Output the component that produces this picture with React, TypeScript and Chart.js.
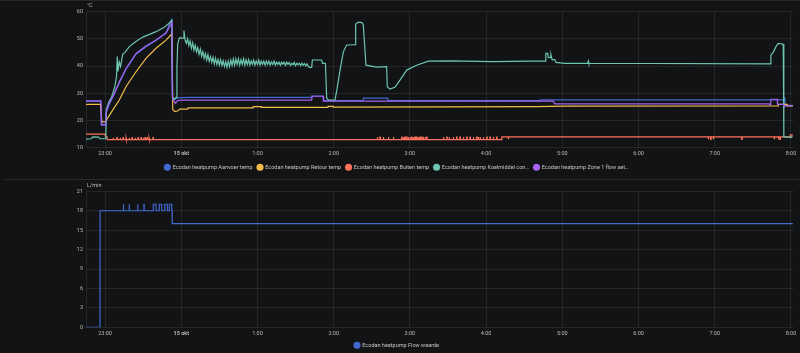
import React, { useEffect, useRef } from 'react';
import { Chart, registerables } from 'chart.js';

Chart.register(...registerables);

// x values: minutes since 14 okt 22:00
const X_MIN = 45; // 22:45
const X_MAX = 602; // ~8:02
const HOUR_TICKS = [60, 120, 180, 240, 300, 360, 420, 480, 540, 600];
const TEMP_TICKS = [10, 20, 30, 40, 50, 60];
const FLOW_TICKS = [0, 3, 6, 9, 12, 15, 18, 21];

const TEMP_LABELS = [
  'Ecodan heatpump Aanvoer temp',
  'Ecodan heatpump Retour temp',
  'Ecodan heatpump Buiten temp',
  'Ecodan heatpump Koelmiddel con…',
  'Ecodan heatpump Zone 1 flow set…',
];
const FLOW_LABEL = 'Ecodan heatpump Flow waarde';
const COLORS = ['#4269d0', '#f4bd4a', '#ff725c', '#6cc5b0', '#a463f2'];

const aanvoer: [number, number][] = [
  [45, 27], [56.5, 27], [57, 18.6], [60.5, 18.6], [61, 23], [63.3, 26], [67.3, 29.7], [71.2, 33.8],
  [76.5, 38.8], [84.4, 44.3], [92.2, 47.1], [100.1, 49.4], [108, 52.3], [112.4, 57], [113, 28.3],
  [115, 27.8], [117, 28.3], [125, 28.5], [222.5, 28.5], [222.7, 29], [231.6, 29], [232, 27.3],
  [263, 27.3], [263.5, 28.2], [282.5, 28.2], [283, 27.3], [402, 27.3], [402.5, 27.6], [594, 27.6],
  [594.3, 28.3], [595, 28.3], [595.3, 25.6], [601.5, 25.6],
];

const retour: [number, number][] = [
  [45, 25.9], [56.5, 25.9], [57.5, 19.5], [60.5, 19.5], [61, 20.1], [66, 23.8], [71.2, 27.5],
  [76.5, 32.4], [84.4, 37.9], [92.2, 42.8], [100.1, 46.5], [108, 49.5], [112.7, 51.8], [113.3, 24],
  [115, 23.3], [117, 23.5], [119, 24.2], [125, 24.2], [125.5, 24.6], [176.5, 24.6], [176.6, 25.1],
  [183, 25.1], [183.1, 24.8], [235.5, 24.8], [235.6, 25.2], [239.5, 25.2], [239.6, 24.9], [330, 25],
  [400, 25.1], [422, 25.3], [590, 25.4], [590.1, 25.9], [597, 25.9], [597.1, 25.4], [601.5, 25.4],
];

const buitenBase: [number, number][] = [
  [45, 15], [60, 15], [60.3, 14], [61.5, 14], [61.8, 13], [372.2, 13], [372.4, 14], [599.3, 14],
  [599.5, 14.7], [601.5, 14.7],
];
const buitenUpEarly = [66.3, 69.4, 71.8, 74.1, 76.5, 78.9, 81.2, 83.6, 85.9, 88.3, 89.9, 91.4, 93, 94.6, 97.7];
const buitenUpMid = [
  274.3, 276.4, 279.0, 283.0, 286.9, 293.5, 294.8, 296.1, 297.5, 298.7, 300.1, 301.4, 302.7, 304.0,
  305.3, 306.6, 307.9, 309.3, 310.5, 311.9, 313.2, 326.3, 329.0, 330.8, 334.1, 336.8, 339.4, 342.0,
  344.7, 347.3, 349.9, 352.6, 353.8, 355.2, 357.8, 360.5, 363.0, 365.6, 368.3,
];
const buitenDownLate = [377.4, 534.9, 536.8, 538.8, 561.2, 586.8, 590, 591.3];

const koelmiddel: [number, number][] = [
  [45, 13.2], [49, 13.3], [50.5, 14], [55, 13.9], [56, 13.3], [60.5, 13.3], [60.7, 17.5], [61, 24],
  [63, 26.8], [65.2, 28.7], [67.5, 32], [69, 36], [69.6, 43.5], [70.2, 38], [71.2, 41.5], [72.2, 39.8],
  [73.9, 44.3], [75.7, 45], [79.1, 47.1], [82.2, 48.3], [86, 49.5], [90.1, 50.7], [95, 51.6],
  [100.1, 52.6], [105.9, 54], [110, 55.5], [112.6, 56.8], [113.2, 28.5], [114.5, 27.8], [116, 28.5],
  [116.6, 40], [117.2, 48], [118.5, 50.3], [121.4, 50.2], [122.1, 53], [123, 49.5],
  [124, 48.3], [125, 50], [126, 47.5], [127, 49.2], [128, 46.5], [129, 48.5], [130, 45.8], [131, 47.6],
  [132, 45.2], [133, 46.8], [134, 44.3], [135, 46.2], [136, 43.6], [137, 45.3], [138, 42.8], [139, 44.6],
  [140, 42.2], [141, 44.2], [142, 41.8], [143, 43.4], [144, 41.3], [145, 43.2], [146, 40.8], [147, 42.8],
  [148, 40.6], [149, 42.4], [150, 40.3], [151, 42.3], [152, 40.2], [153, 41.9], [154, 39.8], [155, 41.6],
  [156, 39.5], [157, 41.8], [158, 39.8], [159, 42.2], [160, 40.2], [161, 42.6], [162, 40.3], [163, 42.6],
  [164, 40.6], [165, 42.6], [166, 40.3], [167, 42.3], [168, 40.6], [169, 42.6], [170, 40.3], [171, 42.3],
  [172, 40.6], [173, 42.3], [174, 40.3], [175, 41.9], [176, 40.6], [177, 42.2], [178, 40.3], [179, 41.8],
  [180, 40.6], [181, 42.2], [182, 40.3], [183, 41.8], [184, 40.6], [185, 41.8], [186, 40.3], [187, 41.8],
  [188, 40.6], [189, 41.8], [190, 40.3], [191, 41.5], [192, 40.6], [193, 41.8], [194, 40.3], [195, 41.4],
  [196, 40.6], [197, 41.4], [198, 40.2], [199, 41.4], [200, 40.6], [201, 41.4], [202, 40.2], [203, 41.4],
  [204, 40.6], [205, 41.3], [206, 40.2], [207, 41], [208, 40.5], [209, 41.3], [210, 40.1], [211, 41],
  [212, 40.5], [213, 41], [214, 40.1], [215, 41], [216, 40.3], [217, 40.9], [218, 40], [219, 40.8],
  [220, 39.8], [221, 39.5], [222.7, 39.5],
  [223.2, 42.2], [230.5, 42.2], [231.2, 41], [233.5, 41], [234.5, 28.2], [236, 27.5], [241, 27.5],
  [242.4, 31], [245, 38.5], [247.6, 45.2], [250.2, 47.7], [256.8, 47.8], [257.3, 55.3], [259, 56],
  [262, 56], [263.3, 55.2], [265.4, 40.3], [273.8, 39.6], [281.7, 39.8], [282.2, 32.4], [284.3, 31.5],
  [288.2, 32.2], [292.2, 34.8], [297.5, 38.5], [305.3, 40.3], [314.5, 41.8], [331.5, 41.9],
  [365.6, 41.6], [394.5, 41.8], [406.5, 41.8], [407, 44.6], [408.5, 44.6], [409, 43], [410.5, 43.2],
  [411, 44.2], [412, 42.2], [414, 42.4], [415, 41.3], [422, 41], [440, 41], [440.4, 41.8],
  [440.8, 41], [583.5, 40.8], [584.2, 44], [586, 45], [588.2, 47.1], [590, 48.3], [593.9, 48],
  [594.4, 14], [600.5, 13.8], [601, 14.4], [601.5, 14.4],
];

const zone1: [number, number][] = [
  [45, 27.2], [56.8, 27.2], [57.2, 18.3], [60.5, 18.3], [60.8, 23.2], [63.3, 26.2], [67.3, 29.9],
  [71.2, 34.2], [76.5, 39.1], [84.4, 44.6], [92.2, 47.3], [100.1, 49.5], [108, 52], [112.7, 56],
  [113, 28], [115.5, 26.3], [117, 27.3], [120, 27.5], [222.7, 27.5], [223, 28.9], [231.8, 28.9],
  [232, 27.1], [413, 27.1], [414, 26.1], [583, 26.1], [583.5, 25.7], [584, 25.7], [584.2, 27.8],
  [589.2, 27.8], [589.4, 25.9], [594, 25.9], [594.5, 25.4], [601.5, 25.4],
];

const flowBase: [number, number][] = [
  [45, 0], [56, 0], [56.1, 18], [112.8, 18], [112.9, 16], [601.5, 16],
];
const flowSpikes: [number, number][] = [
  [74.4, 74.6], [78.9, 79.1], [85.7, 85.9], [90.6, 90.8], [98, 100.1], [102.7, 104.6], [107, 109], [110.6, 112.5],
];

const BG = '#121314';
const FONT = 'Roboto, "Noto Sans", sans-serif';
const TICK_COLOR = '#b9b9b9';
const LEGEND_COLOR = '#c6c6c6';
const GRID_COLOR = 'rgba(255,255,255,0.08)';

function valueAt(base: [number, number][], t: number): number {
  let v = base[0][1];
  for (const [x, y] of base) {
    if (x <= t) v = y;
  }
  return v;
}

function withSpikes(base: [number, number][], spikes: [number, number][], level: number): [number, number][] {
  const pts: [number, number][] = [...base];
  spikes.forEach(([s, e]) => {
    const b = valueAt(base, s);
    pts.push([s - 0.01, b], [s, level], [e, level], [e + 0.01, b]);
  });
  return pts.sort((a, b) => a[0] - b[0]);
}

const W = 0.35;
const buiten = withSpikes(
  withSpikes(
    withSpikes(buitenBase, buitenUpEarly.map((t) => [t, t + W] as [number, number]), 13.7),
    buitenUpMid.map((t) => [t, t + W] as [number, number]),
    13.9,
  ),
  buitenDownLate.map((t) => [t, t + W] as [number, number]),
  13.1,
);
const flow = withSpikes(flowBase, flowSpikes, 19);

function toXY(arr: [number, number][]) {
  return arr.map(([x, y]) => ({ x, y }));
}

function hourLabel(v: number): string {
  const h = (22 + Math.round(v / 60)) % 24;
  return h === 0 ? '15 okt' : `${h}:00`;
}

function unitPlugin(text: string) {
  return {
    id: 'unitLabel',
    afterDraw(chart: any) {
      const { ctx, chartArea } = chart;
      ctx.save();
      ctx.font = `5.5px ${FONT}`;
      ctx.fillStyle = TICK_COLOR;
      ctx.textBaseline = 'middle';
      ctx.textAlign = 'left';
      ctx.fillText(text, chartArea.left + 1, chartArea.top - 5.5);
      ctx.restore();
    },
  };
}

function xScale(height: number) {
  return {
    type: 'linear',
    min: X_MIN,
    max: X_MAX,
    afterBuildTicks: (s: any) => {
      s.ticks = HOUR_TICKS.map((v) => ({ value: v }));
    },
    afterFit: (s: any) => {
      s.height = height;
    },
    grid: { color: GRID_COLOR, drawTicks: false },
    border: { display: false },
    ticks: {
      color: TICK_COLOR,
      padding: 3,
      maxRotation: 0,
      autoSkip: false,
      callback: (v: any) => hourLabel(Number(v)),
      font: (c: any) => ({
        family: FONT,
        size: 5.5,
        weight: c.tick && c.tick.value === 120 ? 'bold' : 'normal',
      }),
    },
  };
}

function yScale(min: number, max: number, ticks: number[]) {
  return {
    type: 'linear',
    min,
    max,
    afterBuildTicks: (s: any) => {
      s.ticks = ticks.map((v) => ({ value: v }));
    },
    afterFit: (s: any) => {
      s.width = 86;
    },
    grid: { color: GRID_COLOR, drawTicks: false },
    border: { display: true, color: GRID_COLOR },
    ticks: { color: TICK_COLOR, padding: 3, font: { family: FONT, size: 5.5 } },
  };
}

function legendOpts() {
  return {
    position: 'bottom',
    labels: {
      usePointStyle: true,
      pointStyle: 'circle',
      boxWidth: 5,
      boxHeight: 5,
      padding: 5,
      color: LEGEND_COLOR,
      font: { family: FONT, size: 5.5 },
      generateLabels: (chart: any) =>
        (Chart as any).defaults.plugins.legend.labels
          .generateLabels(chart)
          .map((l: any) => ({ ...l, lineWidth: 0 }))
          .sort((a: any, b: any) => a.datasetIndex - b.datasetIndex),
    },
  };
}

function lineDs(label: string, color: string, data: [number, number][], order: number) {
  return {
    label,
    data: toXY(data),
    borderColor: color,
    backgroundColor: color,
    borderWidth: 1.2,
    pointRadius: 0,
    fill: false,
    tension: 0,
    order,
  };
}

export default function App() {
  const topRef = useRef<HTMLCanvasElement>(null);
  const botRef = useRef<HTMLCanvasElement>(null);

  useEffect(() => {
    document.body.style.margin = '0';
    document.body.style.background = BG;
    const series = [aanvoer, retour, buiten, koelmiddel, zone1];
    const orders = [5, 4, 3, 2, 1];
    const top = new Chart(topRef.current as HTMLCanvasElement, {
      type: 'line',
      data: {
        datasets: series.map((s, i) => lineDs(TEMP_LABELS[i], COLORS[i], s, orders[i])),
      },
      options: {
        animation: false,
        responsive: false,
        events: [],
        layout: { padding: { top: 11.5, right: 6.5, bottom: 0, left: 0 } },
        scales: { x: xScale(11.75), y: yScale(10, 60, TEMP_TICKS) },
        plugins: { legend: legendOpts(), tooltip: { enabled: false } },
      } as any,
      plugins: [unitPlugin('°C')],
    });
    const bot = new Chart(botRef.current as HTMLCanvasElement, {
      type: 'line',
      data: {
        datasets: [lineDs(FLOW_LABEL, COLORS[0], flow, 1)],
      },
      options: {
        animation: false,
        responsive: false,
        events: [],
        layout: { padding: { top: 11.3, right: 6.5, bottom: 0, left: 0 } },
        scales: { x: xScale(10.2), y: yScale(0, 21, FLOW_TICKS) },
        plugins: { legend: legendOpts(), tooltip: { enabled: false } },
      } as any,
      plugins: [unitPlugin('L/min')],
    });
    return () => {
      top.destroy();
      bot.destroy();
    };
  }, []);

  return (
    <div style={{ position: 'relative', width: 800, height: 353, overflow: 'hidden', background: BG }}>
      <canvas ref={topRef} width={800} height={180} style={{ position: 'absolute', left: 0, top: 0 }} />
      <canvas ref={botRef} width={800} height={178} style={{ position: 'absolute', left: 0, top: 180 }} />
      <div style={{ position: 'absolute', left: 0, top: 0, width: 800, height: 1, background: '#262729' }} />
      <div style={{ position: 'absolute', left: 5, top: 179, width: 795, height: 1, background: '#2a2b2d' }} />
    </div>
  );
}
